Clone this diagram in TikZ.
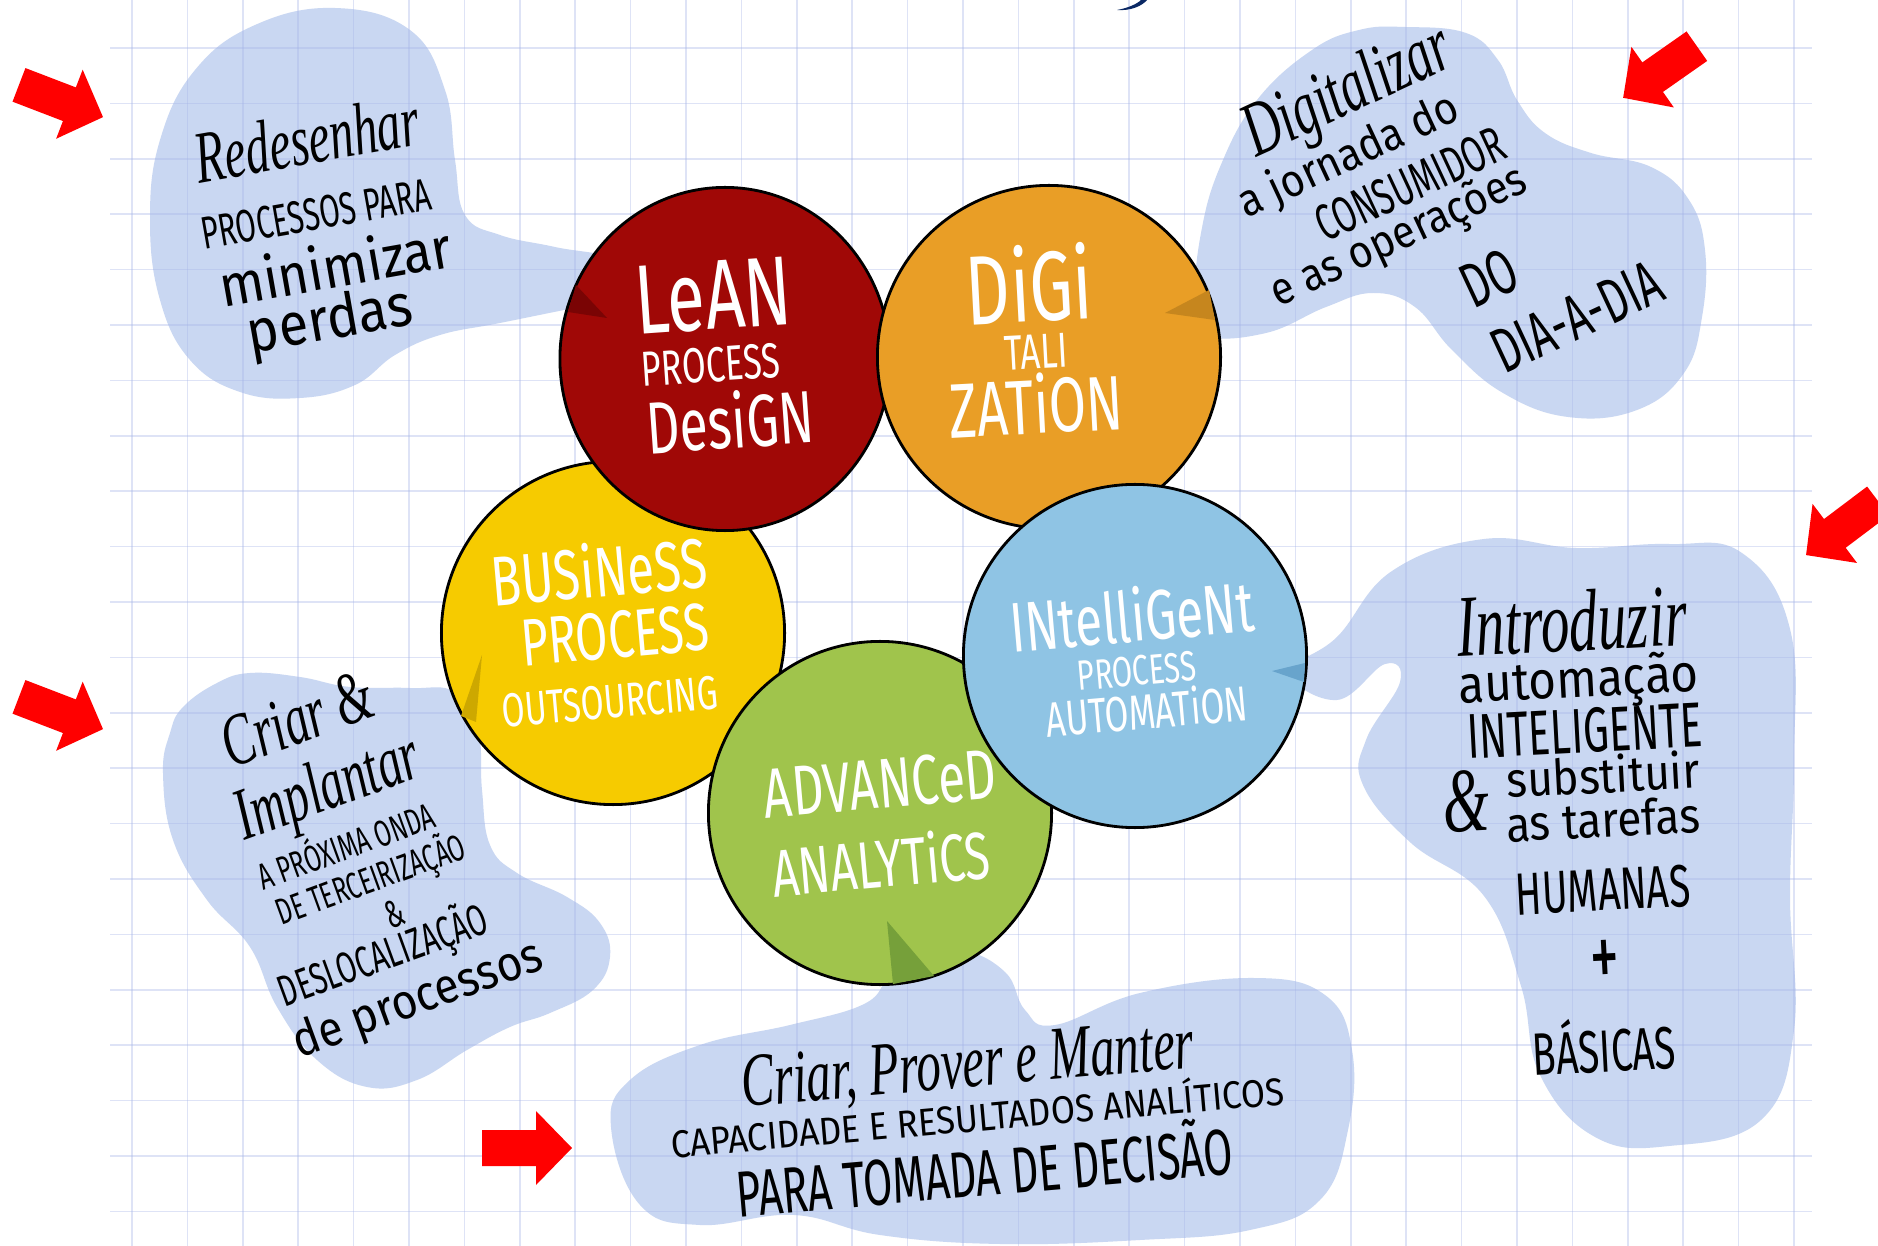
\documentclass[tikz,border=0pt]{standalone}
\usepackage{fontspec}
\newfontfamily\handnarrow{Fira Sans}[FakeStretch=0.65]
\newfontfamily\handwide{Fira Sans}[FakeStretch=0.9]
\newfontfamily\handscript{Liberation Serif}[FakeStretch=0.65]
\newfontfamily\circlefont{Fira Sans}[FakeStretch=0.7]
\usepackage{tikz}
\usetikzlibrary{shapes.geometric}
\definecolor{leanred}{RGB}{160,8,6}
\definecolor{leandark}{RGB}{122,4,4}
\definecolor{digiorange}{RGB}{233,158,38}
\definecolor{digidark}{RGB}{198,134,30}
\definecolor{bpoyellow}{RGB}{246,203,0}
\definecolor{bpodark}{RGB}{205,168,0}
\definecolor{aagreen}{RGB}{160,196,76}
\definecolor{aadark}{RGB}{118,160,58}
\definecolor{ipablue}{RGB}{143,196,228}
\definecolor{ipadark}{RGB}{104,164,204}
\definecolor{blobblue}{RGB}{201,215,242}
\definecolor{gridblue}{RGB}{165,180,232}
\definecolor{arrowred}{RGB}{255,0,0}
\definecolor{titlenavy}{RGB}{10,40,100}
\newcommand\fsz[1]{\fontsize{#1}{#1}\selectfont}
\tikzstyle{bubble} = [ellipse, draw=black, line width=0.8pt, minimum width=3.43cm, minimum height=3.43cm, inner sep=0pt]
\tikzstyle{blob} = [fill=blobblue]
\tikzstyle{gridline} = [draw=gridblue, line width=0.5pt, opacity=0.36]
\tikzstyle{redarrow} = [fill=arrowred]
\tikzstyle{ctext} = [text=white, font=\circlefont, inner sep=0pt]
\tikzstyle{hscript} = [font=\handscript\itshape, inner sep=0pt]
\tikzstyle{hcaps} = [font=\handnarrow, inner sep=0pt]
\tikzstyle{hlower} = [font=\handwide, inner sep=0pt]

\begin{document}
\begin{tikzpicture}[x=0.01cm, y=-0.01cm]
  \useasboundingbox (0,0) rectangle (1878,1246);
  \fill[white] (0,0) rectangle (1878,1246);
  % Draw blobs
  \fill[blob] plot[smooth cycle, tension=0.7] coordinates {(335,8) (410,30) (445,90) (455,160) (465,215) (500,235) (555,247) (620,262) (625,300) (585,306) (500,323) (440,335) (395,355) (355,385) (300,398) (240,392) (190,360) (160,300) (150,220) (160,140) (195,70) (255,25)};
  \fill[blob] plot[smooth cycle, tension=0.7] coordinates {(1405,27) (1466,33) (1498,60) (1517,100) (1545,133) (1591,153) (1651,167) (1689,200) (1705,250) (1702,317) (1684,373) (1637,410) (1568,417) (1503,393) (1452,350) (1415,307) (1373,293) (1326,307) (1266,333) (1205,335) (1195,300) (1201,233) (1220,167) (1257,100) (1312,50) (1359,30)};
  \fill[blob] plot[smooth cycle, tension=0.7] coordinates {(1290,672) (1337,637) (1392,571) (1484,539) (1576,548) (1669,544) (1742,553) (1790,629) (1794,762) (1790,896) (1794,1030) (1761,1120) (1669,1146) (1595,1137) (1540,1075) (1521,986) (1484,896) (1411,843) (1363,785) (1366,740) (1400,682) (1385,664) (1337,700)};
  \fill[blob] plot[smooth cycle, tension=0.7] coordinates {(183,707) (217,683) (250,673) (300,677) (350,687) (410,688) (455,692) (478,730) (482,790) (490,845) (517,873) (567,897) (600,923) (610,957) (593,990) (550,1013) (510,1027) (467,1050) (417,1080) (367,1087) (317,1060) (277,1007) (250,947) (207,900) (173,840) (163,773) (170,733)};
  \fill[blob] plot[smooth cycle, tension=0.7] coordinates {(611,1127) (630,1080) (700,1045) (790,1025) (862,1005) (886,980) (900,955) (960,950) (1005,972) (1025,1010) (1055,1025) (1140,993) (1254,978) (1325,995) (1352,1050) (1348,1130) (1320,1200) (1250,1230) (1140,1240) (1000,1244) (880,1235) (794,1215) (700,1225) (640,1205)};
  % Draw grid
  \foreach \k in {0,...,30}
    \draw[gridline] ({132+55.4*\k},0) -- ({132+55.4*\k},1246);
  \foreach \k in {0,...,21}
    \draw[gridline] (110,{48+55.4*\k}) -- (1812,{48+55.4*\k});
  % Title remnant
  \fill[titlenavy] (1117,10) .. controls (1128,8) and (1137,4) .. (1141,0) -- (1147,0) .. controls (1142,6) and (1131,11) .. (1117,10) -- cycle;
  % Draw circles
  \node[bubble, fill=bpoyellow] (bpo) at (613,633) {};
  \node[bubble, fill=leanred, minimum width=3.3cm] (lean) at (725,359) {};
  \node[bubble, fill=digiorange] (digi) at (1049,357) {};
  \node[bubble, fill=aagreen] (aa) at (880,813) {};
  \node[bubble, fill=ipablue] (ipa) at (1135,656) {};
  % Bubble tails
  \fill[leandark] (576,285) -- (607,318) -- (568,312) -- cycle;
  \fill[digidark] (1209,290) -- (1165,313) -- (1215,320) -- cycle;
  \fill[bpodark] (482,655) -- (476,722) -- (461,716) -- cycle;
  \fill[aadark] (887,921) -- (934,976) -- (893,984) -- cycle;
  \fill[ipadark] (1305,663) -- (1272,671) -- (1304,682) -- cycle;
  % Circle labels
  \node[ctext, rotate=4] (leanA) at (713,296) {\fsz{28}LeAN};
  \node[ctext, rotate=4] (leanB) at (711,365) {\fsz{14}PROCESS};
  \node[ctext, rotate=4] (leanC) at (730,420) {\fsz{21}DesiGN};
  \node[ctext, rotate=3] (digiA) at (1029,284) {\fsz{28}DiGi};
  \node[ctext, rotate=3] (digiB) at (1036,352) {\fsz{14}TALI};
  \node[ctext, rotate=3] (digiC) at (1036,404) {\fsz{22}ZATiON};
  \node[ctext, rotate=5] (bpoA) at (599,570) {\fsz{20}BUSiNeSS};
  \node[ctext, rotate=5] (bpoB) at (615,635) {\fsz{19}PROCESS};
  \node[ctext, rotate=5] (bpoC) at (610,702) {\fsz{13.5}OUTSOURCING};
  \node[ctext, rotate=5] (ipaA) at (1132,615) {\fsz{20}INtelliGeNt};
  \node[ctext, rotate=5] (ipaB) at (1137,671) {\fsz{12}PROCESS};
  \node[ctext, rotate=5] (ipaC) at (1147,710) {\fsz{14}AUTOMATiON};
  \node[ctext, rotate=5] (aaA) at (880,784) {\fsz{20}ADVANCeD};
  \node[ctext, rotate=5] (aaB) at (881,862) {\fsz{19}ANALYTiCS};
  % Blob texts
  \node[hscript, rotate=10] (redesA) at (307,139) {\fsz{21}Redesenhar};
  \node[hcaps, rotate=10] (redesB) at (316,214) {\fsz{13}PROCESSOS PARA};
  \node[hlower, rotate=10] (redesC) at (335,265) {\fsz{16.5}minimizar};
  \node[hlower, rotate=10] (redesD) at (330,323) {\fsz{17}perdas};
  \node[hscript, rotate=25] (digA) at (1349,94) {\fsz{22}Digitalizar};
  \node[hlower, rotate=25] (digB) at (1349,157) {\fsz{13}a jornada do};
  \node[hcaps, rotate=25] (digC) at (1410,184) {\fsz{14.5}CONSUMIDOR};
  \node[hlower, rotate=25] (digD) at (1399,238) {\fsz{13}e as operações};
  \node[hcaps, rotate=25] (digE) at (1489,278) {\fsz{18}DO};
  \node[hcaps, rotate=25] (digF) at (1577,317) {\fsz{18}DIA-A-DIA};
  \node[hscript, rotate=3] (introA) at (1572,621) {\fsz{25}Introduzir};
  \node[hlower, rotate=3] (introB) at (1579,683) {\fsz{15}automação};
  \node[hcaps, rotate=3] (introC) at (1585,731) {\fsz{18}INTELIGENTE};
  \node[hscript, rotate=3] (introD) at (1466,801) {\fsz{26}\&};
  \node[hlower, rotate=3] (introE) at (1603,774) {\fsz{14}substituir};
  \node[hlower, rotate=3] (introF) at (1603,819) {\fsz{14}as tarefas};
  \node[hcaps, rotate=3] (introG) at (1603,890) {\fsz{17}HUMANAS};
  \node[hcaps, rotate=3] (introH) at (1605,964) {\fsz{26}+};
  \node[hcaps, rotate=3] (introI) at (1604,1045) {\fsz{17}BÁSICAS};
  \node[hscript, rotate=20] (criarA) at (297,719) {\fsz{21}Criar \&};
  \node[hscript, rotate=20] (criarB) at (329,791) {\fsz{21}Implantar};
  \node[hcaps, rotate=20] (criarC) at (345,843) {\fsz{10.5}A PRÓXIMA ONDA};
  \node[hcaps, rotate=20] (criarD) at (371,880) {\fsz{10.5}DE TERCEIRIZAÇÃO};
  \node[hcaps, rotate=20] (criarE) at (395,914) {\fsz{11}\&};
  \node[hcaps, rotate=20] (criarF) at (383,956) {\fsz{12.5}DESLOCALIZAÇÃO};
  \node[hlower, rotate=20] (criarG) at (418,1001) {\fsz{14}de processos};
  \node[hscript, rotate=5] (proverA) at (968,1068) {\fsz{21.5}Criar, Prover e Manter};
  \node[hlower, rotate=5] (proverB) at (977,1114) {\fsz{11}CAPACIDADE E RESULTADOS ANALÍTICOS};
  \node[hcaps, rotate=5] (proverC) at (984,1167) {\fsz{18.5}PARA TOMADA DE DECISÃO};
  % Draw arrows
  \foreach \x/\y/\a in {61/101/-21, 1660/72/-145, 1842/528/-143, 61/713/-21, 527/1148/0}
    \fill[redarrow, shift={(\x,\y)}, rotate=\a] (-45,-18) -- (9,-18) -- (9,-37) -- (45,0) -- (9,37) -- (9,18) -- (-45,18) -- cycle;
\end{tikzpicture}
\end{document}
